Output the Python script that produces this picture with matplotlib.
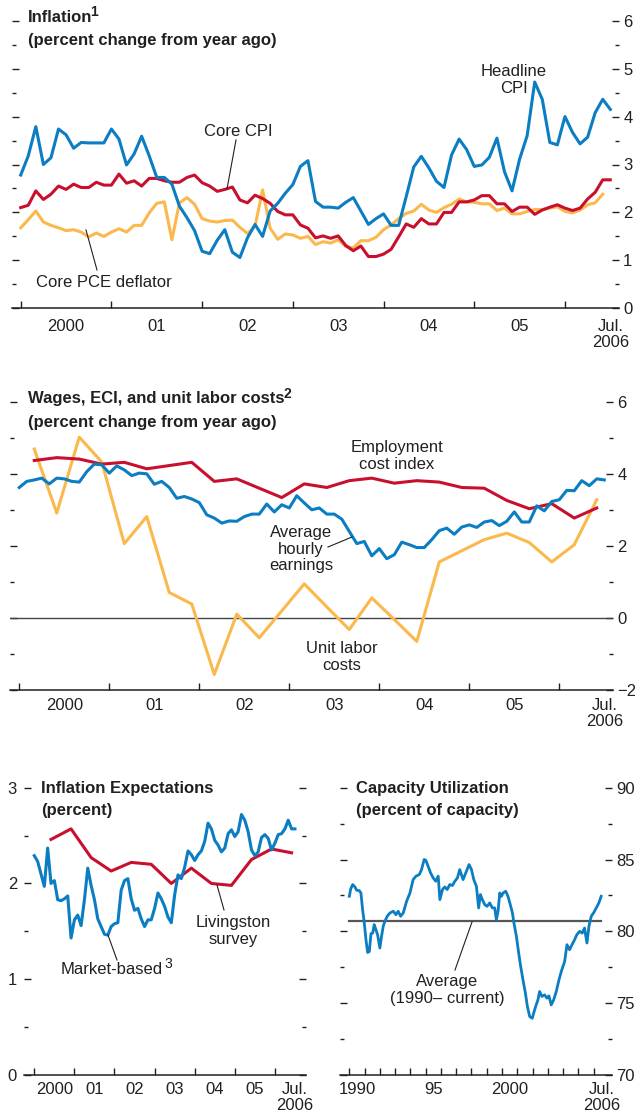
import numpy as np
import matplotlib
matplotlib.use("Agg")
import matplotlib.pyplot as plt
from matplotlib.lines import Line2D
from matplotlib.ticker import MultipleLocator, FixedLocator, NullFormatter

plt.rcParams['font.family'] = ['Liberation Sans Narrow', 'Liberation Sans', 'DejaVu Sans']

W, H = 635, 1118
BLUE = '#0b7dc2'
RED = '#c8102e'
GOLD = '#fbb84c'
INK = '#231f20'
FS = 12

# ---- Inflation (monthly, Jan 2000 - Jul 2006) ----
headline_cpi = [
    2.78, 3.18, 3.79, 3.00, 3.14, 3.74, 3.62, 3.34, 3.46, 3.45, 3.45, 3.45,
    3.74, 3.53, 2.99, 3.22, 3.59, 3.18, 2.73, 2.73, 2.59, 2.13, 1.89, 1.62,
    1.19, 1.14, 1.42, 1.64, 1.17, 1.06, 1.47, 1.75, 1.50, 2.03, 2.19, 2.40,
    2.58, 2.96, 3.08, 2.23, 2.11, 2.11, 2.09, 2.21, 2.31, 2.03, 1.75, 1.87,
    1.97, 1.73, 1.73, 2.33, 2.95, 3.17, 2.93, 2.65, 2.52, 3.20, 3.53, 3.31,
    2.96, 2.99, 3.15, 3.55, 2.85, 2.45, 3.11, 3.60, 4.72, 4.36, 3.46, 3.41,
    4.00, 3.67, 3.43, 3.57, 4.08, 4.36, 4.15]
core_cpi = [
    2.10, 2.15, 2.45, 2.27, 2.38, 2.55, 2.48, 2.59, 2.52, 2.52, 2.63, 2.57,
    2.57, 2.80, 2.61, 2.66, 2.55, 2.71, 2.71, 2.66, 2.63, 2.63, 2.73, 2.78,
    2.62, 2.55, 2.44, 2.48, 2.53, 2.26, 2.20, 2.36, 2.29, 2.19, 2.02, 1.95,
    1.95, 1.74, 1.67, 1.47, 1.51, 1.46, 1.51, 1.31, 1.20, 1.30, 1.08, 1.08,
    1.13, 1.23, 1.49, 1.76, 1.69, 1.87, 1.76, 1.76, 2.00, 2.00, 2.22, 2.22,
    2.26, 2.35, 2.35, 2.18, 2.18, 2.02, 2.11, 2.11, 1.96, 2.05, 2.11, 2.16,
    2.09, 2.04, 2.09, 2.28, 2.42, 2.68, 2.68]
core_pce = [
    1.68, 1.85, 2.03, 1.80, 1.73, 1.68, 1.62, 1.64, 1.59, 1.49, 1.57, 1.50,
    1.59, 1.66, 1.59, 1.73, 1.73, 1.99, 2.19, 2.22, 1.43, 2.20, 2.31, 2.17,
    1.87, 1.82, 1.80, 1.83, 1.84, 1.69, 1.56, 1.71, 2.47, 1.67, 1.44, 1.55,
    1.53, 1.46, 1.50, 1.33, 1.39, 1.36, 1.43, 1.29, 1.26, 1.41, 1.41, 1.48,
    1.64, 1.74, 1.87, 1.98, 2.03, 2.17, 2.05, 2.00, 2.10, 2.17, 2.28, 2.22,
    2.21, 2.18, 2.18, 2.04, 2.09, 1.97, 1.97, 2.02, 2.06, 2.06, 2.09, 2.12,
    2.02, 1.99, 2.05, 2.16, 2.20, 2.38]

# ---- Wages (AHE monthly; ECI and ULC quarterly, Mar 2000 - Jun 2006) ----
ahe = [
    3.62, 3.79, 3.83, 3.88, 3.72, 3.88, 3.86, 3.79, 3.77, 4.06, 4.27, 4.25,
    4.02, 4.22, 4.11, 3.95, 4.02, 4.00, 3.71, 3.79, 3.62, 3.32, 3.37, 3.30,
    3.20, 2.86, 2.77, 2.63, 2.69, 2.68, 2.81, 2.88, 2.88, 3.16, 2.94, 3.14,
    3.05, 3.39, 3.19, 3.00, 3.05, 2.88, 2.88, 2.74, 2.40, 2.06, 2.12, 1.72,
    1.92, 1.64, 1.75, 2.10, 2.03, 1.95, 1.95, 2.17, 2.42, 2.49, 2.32, 2.52,
    2.58, 2.51, 2.66, 2.70, 2.56, 2.68, 2.94, 2.66, 2.66, 3.11, 2.97, 3.23,
    3.28, 3.54, 3.53, 3.81, 3.67, 3.86, 3.83]
eci = [4.37, 4.45, 4.41, 4.27, 4.32, 4.14, 4.23, 4.32, 3.79, 3.86, 3.60, 3.34,
       3.72, 3.62, 3.81, 3.88, 3.74, 3.81, 3.77, 3.62, 3.60, 3.26, 3.03, 3.17,
       2.77, 3.05]
ulc = [4.69, 2.91, 5.02, 4.33, 2.06, 2.81, 0.70, 0.38, -1.58, 0.10, -0.56, 0.19,
       0.94, 0.30, -0.33, 0.55, -0.05, -0.66, 1.55, 1.86, 2.17, 2.35, 2.09, 1.55,
       2.03, 3.28]

# ---- Inflation expectations ----
market_based = [
    2.29, 2.23, 2.10, 1.97, 2.37, 2.00, 2.03, 1.83, 1.82, 1.84, 1.87, 1.43,
    1.62, 1.67, 1.56, 1.83, 2.16, 1.98, 1.83, 1.63, 1.55, 1.47, 1.46, 1.55,
    1.58, 1.59, 1.93, 2.03, 2.05, 1.84, 1.72, 1.74, 1.63, 1.55, 1.62, 1.62,
    1.74, 1.90, 1.84, 1.76, 1.65, 1.59, 1.88, 2.09, 2.05, 2.17, 2.34, 2.30,
    2.24, 2.30, 2.34, 2.44, 2.63, 2.57, 2.45, 2.40, 2.33, 2.37, 2.52, 2.56,
    2.49, 2.54, 2.72, 2.66, 2.54, 2.35, 2.29, 2.33, 2.48, 2.51, 2.47, 2.35,
    2.42, 2.51, 2.52, 2.57, 2.66, 2.57, 2.57]
livingston = [2.46, 2.57, 2.27, 2.13, 2.22, 2.20, 2.00, 2.16, 2.00, 1.98,
              2.25, 2.36, 2.32]

# ---- Capacity utilization ----
cu_dates = [
    1990.00, 1990.09, 1990.22, 1990.37, 1990.48, 1990.65, 1990.76, 1990.87,
    1990.98, 1991.09, 1991.20, 1991.31, 1991.42, 1991.53, 1991.63, 1991.74,
    1991.85, 1992.00, 1992.11, 1992.22, 1992.33, 1992.48, 1992.66, 1992.88,
    1993.05, 1993.20, 1993.36, 1993.53, 1993.75, 1993.97, 1994.18, 1994.36,
    1994.58, 1994.73, 1994.90, 1995.01, 1995.16, 1995.32, 1995.49, 1995.66,
    1995.82, 1995.93, 1996.10, 1996.25, 1996.41, 1996.58, 1996.75, 1996.91,
    1997.08, 1997.23, 1997.45, 1997.67, 1997.84, 1998.00, 1998.15, 1998.32,
    1998.47, 1998.58, 1998.71, 1998.87, 1999.02, 1999.19, 1999.37, 1999.52,
    1999.63, 1999.74, 1999.85, 1999.96, 2000.07, 2000.24, 2000.39, 2000.54,
    2000.68, 2000.78, 2000.94, 2001.09, 2001.22, 2001.37, 2001.53, 2001.66,
    2001.81, 2001.98, 2002.07, 2002.20, 2002.35, 2002.46, 2002.61, 2002.79,
    2002.94, 2003.07, 2003.22, 2003.38, 2003.55, 2003.73, 2003.88, 2004.10,
    2004.25, 2004.42, 2004.58, 2004.75, 2004.90, 2005.08, 2005.25, 2005.40,
    2005.56, 2005.69, 2005.84, 2005.99, 2006.17, 2006.34, 2006.49]
cu_values = [
    82.44, 82.95, 83.26, 83.09, 82.86, 82.84, 82.67, 81.51, 80.58, 79.42,
    78.53, 78.60, 79.84, 79.88, 80.47, 80.12, 79.77, 78.84, 79.65, 80.35,
    80.70, 81.05, 81.28, 81.40, 81.16, 81.40, 81.05, 81.28, 82.09, 82.67,
    83.60, 83.84, 83.95, 84.30, 85.00, 84.95, 84.53, 84.07, 83.72, 83.49,
    83.84, 82.21, 82.91, 83.09, 82.91, 83.26, 83.19, 83.49, 83.72, 84.30,
    83.60, 84.19, 84.65, 84.30, 83.60, 83.14, 81.63, 82.56, 82.21, 81.86,
    81.74, 81.98, 81.63, 81.63, 80.81, 81.40, 82.67, 82.44, 82.67, 82.79,
    82.44, 81.86, 81.28, 80.58, 79.65, 78.49, 77.56, 76.63, 75.70, 74.77,
    74.07, 73.95, 74.30, 74.77, 75.23, 75.81, 75.47, 75.58, 75.35, 75.51,
    74.88, 75.23, 75.81, 76.63, 77.21, 77.91, 79.07, 78.72, 79.07, 79.42,
    79.77, 80.00, 79.88, 80.23, 79.19, 80.35, 81.05, 81.28, 81.63, 81.98,
    82.44]
cu_average = 80.7

year_labels = ['2000', '01', '02', '03', '04', '05', 'Jul.\n2006']
cu_labels = ['1990', '95', '2000', 'Jul.\n2006']

months = 2000 + np.arange(79) / 12
quarters = 2000 + (np.arange(26) * 3 + 2) / 12
halfyears = 2000 + (np.arange(13) * 6 + 5) / 12

fig = plt.figure(figsize=(W / 100, H / 100), dpi=100)
renderer = fig.canvas.get_renderer()


def add_panel(x0, x1, ytop, ybot):
    ax = fig.add_axes([x0 / W, 1 - ybot / H, (x1 - x0) / W, (ybot - ytop) / H])
    for s in ('top', 'left', 'right'):
        ax.spines[s].set_visible(False)
    ax.spines['bottom'].set_color(INK)
    ax.spines['bottom'].set_linewidth(1.1)
    ax.patch.set_alpha(0)
    return ax


def style_x(ax, bounds, label_pos, labels, pad):
    ax.xaxis.set_major_locator(FixedLocator(bounds))
    ax.xaxis.set_major_formatter(NullFormatter())
    ax.xaxis.set_minor_locator(FixedLocator(label_pos))
    ax.set_xticklabels(labels, minor=True)
    ax.tick_params(axis='x', which='major', direction='in', length=5, width=1, color=INK)
    ax.tick_params(axis='x', which='minor', length=0, pad=pad, labelsize=FS, labelcolor=INK)
    for t in ax.get_xticklabels(minor=True):
        t.set_linespacing(1.05)


def style_y(ax, major, minor, left_labels, pad):
    ax.yaxis.set_major_locator(MultipleLocator(major))
    ax.yaxis.set_minor_locator(MultipleLocator(minor))
    ax.tick_params(axis='y', which='both', direction='in', left=True, right=True,
                   labelleft=left_labels, labelright=not left_labels,
                   color=INK, width=1, pad=pad, labelsize=FS, labelcolor=INK)
    ax.tick_params(axis='y', which='major', length=5)
    ax.tick_params(axis='y', which='minor', length=3)


def ftext(x, y, s, **kw):
    kw.setdefault('fontsize', FS)
    return fig.text(x / W, 1 - y / H, s, color=INK, **kw)


def sup_after(t, s, dy=-5, dx=-1, **kw):
    # small raised footnote number right after a text
    bb = t.get_window_extent(renderer)
    return ftext(bb.x1 + dx, (1 - t.get_position()[1]) * H + dy, s,
                 fontsize=10, va='center', **kw)


def pointer(x0, y0, x1, y1):
    fig.add_artist(Line2D([x0 / W, x1 / W], [1 - y0 / H, 1 - y1 / H], color=INK, lw=0.8))


# ---------------- Inflation ----------------
ax1 = add_panel(12, 619, 20.7, 308.3)
ax1.plot(months[:len(core_pce)], core_pce, color=GOLD, lw=2.2)
ax1.plot(months, core_cpi, color=RED, lw=2.2)
ax1.plot(months, headline_cpi, color=BLUE, lw=2.2)
ax1.set_xlim(1999.904, 2006.596)
ax1.set_ylim(0, 6)
style_x(ax1, range(2000, 2007), [2000.5 + i for i in range(6)] + [2006.5], year_labels, 8)
style_y(ax1, 1, 0.5, False, 3)
t = ftext(28, 17, 'Inflation', fontweight='bold', va='center')
sup_after(t, '1', dx=-2, fontweight='bold')
ftext(28, 40, '(percent change from year ago)', fontweight='bold', va='center')
ftext(238, 131, 'Core CPI', ha='center', va='center')
pointer(236, 140, 227, 189)
ftext(104, 283, 'Core PCE deflator', ha='center', va='center')
pointer(86, 230, 97, 270)
ftext(514, 80, 'Headline\nCPI', ha='center', va='center', linespacing=1.15)

# ---------------- Wages ----------------
ax2 = add_panel(10, 613, 401.9, 689.6)
ax2.axhline(0, color='#444444', lw=1)
ax2.plot(quarters, ulc, color=GOLD, lw=2.2)
ax2.plot(quarters, eci, color=RED, lw=2.2)
ax2.plot(months, ahe, color=BLUE, lw=2.2)
ax2.set_xlim(1999.897, 2006.597)
ax2.set_ylim(-2, 6)
style_x(ax2, range(2000, 2007), [2000.5 + i for i in range(6)] + [2006.5], year_labels, 6)
style_y(ax2, 2, 1, False, 3)
t = ftext(28, 399, 'Wages, ECI, and unit labor costs', fontweight='bold', va='center')
sup_after(t, '2', dx=-1, fontweight='bold')
ftext(28, 423, '(percent change from year ago)', fontweight='bold', va='center')
ftext(397, 456, 'Employment\ncost index', ha='center', va='center', linespacing=1.15)
ftext(301, 549, 'Average\nhourly\nearnings', ha='center', va='center', linespacing=1.15)
pointer(328, 547, 352, 537)
ftext(342, 657, 'Unit labor\ncosts', ha='center', va='center', linespacing=1.15)

# ---------------- Inflation expectations ----------------
ax3 = add_panel(24, 306, 787.7, 1075)
ax3.plot(halfyears, livingston, color=RED, lw=2.2)
ax3.plot(months, market_based, color=BLUE, lw=2.2)
ax3.set_xlim(1999.743, 2006.776)
ax3.set_ylim(0, 3)
style_x(ax3, range(2000, 2007), [2000.5 + i for i in range(6)] + [2006.5], year_labels, 5)
style_y(ax3, 1, 0.5, True, 5)
ftext(41, 788, 'Inflation Expectations', fontweight='bold', va='center')
ftext(41, 810, '(percent)', fontweight='bold', va='center')
ftext(233, 931, 'Livingston\nsurvey', ha='center', va='center', linespacing=1.15)
pointer(217, 885, 224, 910)
t = ftext(112, 970, 'Market-based', ha='center', va='center')
sup_after(t, '3', dy=-6, dx=1)
pointer(108, 935, 117, 960)

# ---------------- Capacity utilization ----------------
ax4 = add_panel(340, 612, 787.7, 1075)
ax4.plot([cu_dates[0], cu_dates[-1]], [cu_average, cu_average], color='#555555', lw=1.6)
ax4.plot(cu_dates, cu_values, color=BLUE, lw=2.0)
ax4.set_xlim(1989.39, 2007.2)
ax4.set_ylim(70, 90)
style_x(ax4, range(1990, 2007), [1990.5, 1995.5, 2000.5, 2006.5], cu_labels, 5)
style_y(ax4, 5, 2.5, False, 3)
ftext(356, 788, 'Capacity Utilization', fontweight='bold', va='center')
ftext(356, 810, '(percent of capacity)', fontweight='bold', va='center')
ftext(447, 990, 'Average\n(1990\u2013 current)', ha='center', va='center', linespacing=1.15)
pointer(472, 922, 455, 970)

fig.savefig('out.png', dpi=100)
